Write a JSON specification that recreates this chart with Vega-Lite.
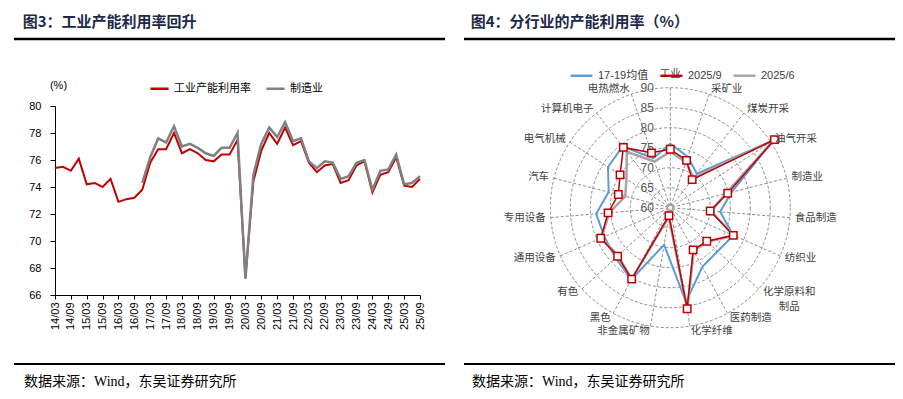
{
  "$schema": "https://vega.github.io/schema/vega-lite/v6.json",
  "background": "white",
  "padding": {"left": 12, "top": 14, "right": 0, "bottom": 0},
  "bounds": "flush",
  "spacing": 19,
  "resolve": {"scale": {"color": "independent"}, "legend": {"color": "independent"}},
  "config": {
    "view": {"stroke": null},
    "font": "Liberation Sans",
    "title": {"anchor": "start", "fontSize": 15, "fontWeight": "bold", "font": "Noto Sans CJK SC", "color": "#1c2a48", "offset": 8, "baseline": "bottom"}
  },
  "datasets": {
    "line": [
      {"q": "14/03", "s": "工业产能利用率", "v": 75.4}, {"q": "14/06", "s": "工业产能利用率", "v": 75.5}, {"q": "14/09", "s": "工业产能利用率", "v": 75.2}, {"q": "14/12", "s": "工业产能利用率", "v": 76.1},
      {"q": "15/03", "s": "工业产能利用率", "v": 74.2}, {"q": "15/06", "s": "工业产能利用率", "v": 74.3}, {"q": "15/09", "s": "工业产能利用率", "v": 74.0}, {"q": "15/12", "s": "工业产能利用率", "v": 74.6},
      {"q": "16/03", "s": "工业产能利用率", "v": 72.9}, {"q": "16/06", "s": "工业产能利用率", "v": 73.1}, {"q": "16/09", "s": "工业产能利用率", "v": 73.2}, {"q": "16/12", "s": "工业产能利用率", "v": 73.8},
      {"q": "17/03", "s": "工业产能利用率", "v": 75.8}, {"q": "17/06", "s": "工业产能利用率", "v": 76.8}, {"q": "17/09", "s": "工业产能利用率", "v": 76.8}, {"q": "17/12", "s": "工业产能利用率", "v": 78.0},
      {"q": "18/03", "s": "工业产能利用率", "v": 76.5}, {"q": "18/06", "s": "工业产能利用率", "v": 76.8}, {"q": "18/09", "s": "工业产能利用率", "v": 76.5}, {"q": "18/12", "s": "工业产能利用率", "v": 76.0},
      {"q": "19/03", "s": "工业产能利用率", "v": 75.9}, {"q": "19/06", "s": "工业产能利用率", "v": 76.4}, {"q": "19/09", "s": "工业产能利用率", "v": 76.4}, {"q": "19/12", "s": "工业产能利用率", "v": 77.5},
      {"q": "20/03", "s": "工业产能利用率", "v": 67.3}, {"q": "20/06", "s": "工业产能利用率", "v": 74.4}, {"q": "20/09", "s": "工业产能利用率", "v": 76.7}, {"q": "20/12", "s": "工业产能利用率", "v": 78.0},
      {"q": "21/03", "s": "工业产能利用率", "v": 77.2}, {"q": "21/06", "s": "工业产能利用率", "v": 78.4}, {"q": "21/09", "s": "工业产能利用率", "v": 77.1}, {"q": "21/12", "s": "工业产能利用率", "v": 77.4},
      {"q": "22/03", "s": "工业产能利用率", "v": 75.8}, {"q": "22/06", "s": "工业产能利用率", "v": 75.1}, {"q": "22/09", "s": "工业产能利用率", "v": 75.6}, {"q": "22/12", "s": "工业产能利用率", "v": 75.7},
      {"q": "23/03", "s": "工业产能利用率", "v": 74.3}, {"q": "23/06", "s": "工业产能利用率", "v": 74.5}, {"q": "23/09", "s": "工业产能利用率", "v": 75.6}, {"q": "23/12", "s": "工业产能利用率", "v": 75.9},
      {"q": "24/03", "s": "工业产能利用率", "v": 73.6}, {"q": "24/06", "s": "工业产能利用率", "v": 74.9}, {"q": "24/09", "s": "工业产能利用率", "v": 75.1}, {"q": "24/12", "s": "工业产能利用率", "v": 76.2},
      {"q": "25/03", "s": "工业产能利用率", "v": 74.1}, {"q": "25/06", "s": "工业产能利用率", "v": 74.0}, {"q": "25/09", "s": "工业产能利用率", "v": 74.6},
      {"q": "16/12", "s": "制造业", "v": 74.3},
      {"q": "17/03", "s": "制造业", "v": 76.2}, {"q": "17/06", "s": "制造业", "v": 77.6}, {"q": "17/09", "s": "制造业", "v": 77.3}, {"q": "17/12", "s": "制造业", "v": 78.5},
      {"q": "18/03", "s": "制造业", "v": 77.0}, {"q": "18/06", "s": "制造业", "v": 77.2}, {"q": "18/09", "s": "制造业", "v": 76.9}, {"q": "18/12", "s": "制造业", "v": 76.5},
      {"q": "19/03", "s": "制造业", "v": 76.3}, {"q": "19/06", "s": "制造业", "v": 76.9}, {"q": "19/09", "s": "制造业", "v": 76.9}, {"q": "19/12", "s": "制造业", "v": 78.0},
      {"q": "20/03", "s": "制造业", "v": 67.2}, {"q": "20/06", "s": "制造业", "v": 74.9}, {"q": "20/09", "s": "制造业", "v": 77.2}, {"q": "20/12", "s": "制造业", "v": 78.4},
      {"q": "21/03", "s": "制造业", "v": 77.7}, {"q": "21/06", "s": "制造业", "v": 78.8}, {"q": "21/09", "s": "制造业", "v": 77.4}, {"q": "21/12", "s": "制造业", "v": 77.6},
      {"q": "22/03", "s": "制造业", "v": 75.9}, {"q": "22/06", "s": "制造业", "v": 75.4}, {"q": "22/09", "s": "制造业", "v": 75.9}, {"q": "22/12", "s": "制造业", "v": 75.8},
      {"q": "23/03", "s": "制造业", "v": 74.6}, {"q": "23/06", "s": "制造业", "v": 74.8}, {"q": "23/09", "s": "制造业", "v": 75.8}, {"q": "23/12", "s": "制造业", "v": 76.0},
      {"q": "24/03", "s": "制造业", "v": 73.8}, {"q": "24/06", "s": "制造业", "v": 75.2}, {"q": "24/09", "s": "制造业", "v": 75.3}, {"q": "24/12", "s": "制造业", "v": 76.4},
      {"q": "25/03", "s": "制造业", "v": 74.2}, {"q": "25/06", "s": "制造业", "v": 74.3}, {"q": "25/09", "s": "制造业", "v": 74.8}
    ],
    "radar": [
      {"cat": "工业", "s": "17-19均值", "v": 76.0}, {"cat": "采矿业", "s": "17-19均值", "v": 73.5}, {"cat": "煤炭开采", "s": "17-19均值", "v": 70.8}, {"cat": "油气开采", "s": "17-19均值", "v": 90.8},
      {"cat": "制造业", "s": "17-19均值", "v": 75.8}, {"cat": "食品制造", "s": "17-19均值", "v": 72.5}, {"cat": "纺织业", "s": "17-19均值", "v": 77.2}, {"cat": "化学原料和制品", "s": "17-19均值", "v": 76.1},
      {"cat": "医药制造", "s": "17-19均值", "v": 76.8}, {"cat": "化学纤维", "s": "17-19均值", "v": 83.9}, {"cat": "非金属矿物", "s": "17-19均值", "v": 69.4}, {"cat": "黑色", "s": "17-19均值", "v": 80.4},
      {"cat": "有色", "s": "17-19均值", "v": 78.6}, {"cat": "通用设备", "s": "17-19均值", "v": 78.0}, {"cat": "专用设备", "s": "17-19均值", "v": 78.6}, {"cat": "汽车", "s": "17-19均值", "v": 75.9},
      {"cat": "电气机械", "s": "17-19均值", "v": 78.6}, {"cat": "计算机电子", "s": "17-19均值", "v": 79.4}, {"cat": "电热燃水", "s": "17-19均值", "v": 73.1},
      {"cat": "工业", "s": "2025/6", "v": 74.0}, {"cat": "采矿业", "s": "2025/6", "v": 72.0}, {"cat": "煤炭开采", "s": "2025/6", "v": 69.5}, {"cat": "油气开采", "s": "2025/6", "v": 91.0},
      {"cat": "制造业", "s": "2025/6", "v": 74.3}, {"cat": "食品制造", "s": "2025/6", "v": 70.2}, {"cat": "纺织业", "s": "2025/6", "v": 77.4}, {"cat": "化学原料和制品", "s": "2025/6", "v": 72.6},
      {"cat": "医药制造", "s": "2025/6", "v": 72.3}, {"cat": "化学纤维", "s": "2025/6", "v": 85.8}, {"cat": "非金属矿物", "s": "2025/6", "v": 62.3}, {"cat": "黑色", "s": "2025/6", "v": 80.3},
      {"cat": "有色", "s": "2025/6", "v": 77.7}, {"cat": "通用设备", "s": "2025/6", "v": 78.8}, {"cat": "专用设备", "s": "2025/6", "v": 75.3}, {"cat": "汽车", "s": "2025/6", "v": 71.6},
      {"cat": "电气机械", "s": "2025/6", "v": 73.1}, {"cat": "计算机电子", "s": "2025/6", "v": 77.7}, {"cat": "电热燃水", "s": "2025/6", "v": 72.2},
      {"cat": "工业", "s": "2025/9", "v": 74.6}, {"cat": "采矿业", "s": "2025/9", "v": 72.5}, {"cat": "煤炭开采", "s": "2025/9", "v": 68.9}, {"cat": "油气开采", "s": "2025/9", "v": 91.1},
      {"cat": "制造业", "s": "2025/9", "v": 74.8}, {"cat": "食品制造", "s": "2025/9", "v": 70.0}, {"cat": "纺织业", "s": "2025/9", "v": 77.2}, {"cat": "化学原料和制品", "s": "2025/9", "v": 72.4},
      {"cat": "医药制造", "s": "2025/9", "v": 72.0}, {"cat": "化学纤维", "s": "2025/9", "v": 85.6}, {"cat": "非金属矿物", "s": "2025/9", "v": 62.0}, {"cat": "黑色", "s": "2025/9", "v": 80.3},
      {"cat": "有色", "s": "2025/9", "v": 77.9}, {"cat": "通用设备", "s": "2025/9", "v": 79.0}, {"cat": "专用设备", "s": "2025/9", "v": 75.6}, {"cat": "汽车", "s": "2025/9", "v": 73.4},
      {"cat": "电气机械", "s": "2025/9", "v": 75.0}, {"cat": "计算机电子", "s": "2025/9", "v": 79.1}, {"cat": "电热燃水", "s": "2025/9", "v": 74.5}
    ],
    "levels": [{"lvl": 60}, {"lvl": 65}, {"lvl": 70}, {"lvl": 75}, {"lvl": 80}, {"lvl": 85}, {"lvl": 90}]
  },
  "hconcat": [
    {
      "width": 431,
      "height": 325,
      "title": {"text": "图3：工业产能利用率回升", "dx": 10},
      "layer": [
        {
          "data": {"values": [{}]},
          "layer": [
            {"mark": {"type": "rule", "color": "#000000", "strokeWidth": 2.5}, "encoding": {"y": {"datum": 1, "type": "quantitative", "scale": {"domain": [0, 1]}, "axis": null}}},
            {"mark": {"type": "rule", "color": "#000000", "strokeWidth": 2}, "encoding": {"y": {"datum": 0, "type": "quantitative", "axis": null}}},
            {"mark": {"type": "text", "align": "left", "baseline": "middle", "fontSize": 14, "font": "Liberation Serif, Noto Sans CJK SC", "color": "#000000"},
             "encoding": {"x": {"datum": 0.0232, "type": "quantitative", "scale": {"domain": [0, 1]}, "axis": null}, "y": {"datum": -0.0554, "type": "quantitative", "axis": null}, "text": {"value": "数据来源：Wind，东吴证券研究所"}}}
          ]
        },
        {
          "data": {"name": "line"},
          "encoding": {
            "x": {"field": "q", "type": "ordinal", "scale": {"type": "point", "range": [41, 406], "padding": 0},
                  "axis": {"orient": "bottom", "offset": -69, "title": null, "values": ["14/03","14/09","15/03","15/09","16/03","16/09","17/03","17/09","18/03","18/09","19/03","19/09","20/03","20/09","21/03","21/09","22/03","22/09","23/03","23/09","24/03","24/09","25/03","25/09"],
                           "labelAngle": 270, "labelFontSize": 11, "labelColor": "#000000", "domainColor": "#000000", "tickColor": "#000000", "tickSize": 4, "labelPadding": 3, "grid": false}},
            "y": {"field": "v", "type": "quantitative", "scale": {"domain": [66, 80], "range": [256, 67], "nice": false, "zero": false},
                  "axis": {"orient": "left", "offset": -41, "values": [66, 68, 70, 72, 74, 76, 78, 80], "grid": false, "labelFontSize": 11, "labelColor": "#000000", "domainColor": "#000000", "tickColor": "#000000", "tickSize": 5, "labelPadding": 9,
                           "title": "(%)", "titleAngle": 0, "titleX": 3, "titleY": 46, "titleAlign": "center", "titleBaseline": "middle", "titleFontWeight": "normal", "titleFontSize": 11, "titleColor": "#000000"}},
            "color": {"field": "s", "type": "nominal", "scale": {"domain": ["工业产能利用率", "制造业"], "range": ["#C00000", "#808080"]},
                      "legend": {"orient": "none", "legendX": 135, "legendY": 39, "direction": "horizontal", "title": null, "symbolType": "stroke", "symbolSize": 330, "symbolStrokeWidth": 2.5, "labelFontSize": 11, "labelFont": "Noto Sans CJK SC", "labelColor": "#000000", "columnPadding": 10, "labelOffset": 4, "padding": 0}}
          },
          "layer": [
            {"transform": [{"filter": "datum.s == '工业产能利用率'"}], "mark": {"type": "line", "strokeWidth": 2}},
            {"transform": [{"filter": "datum.s == '制造业'"}], "mark": {"type": "line", "strokeWidth": 2.5}}
          ]
        }
      ],
      "resolve": {"scale": {"x": "independent", "y": "independent"}}
    },
    {
      "width": 431,
      "height": 325,
      "title": {"text": "图4：分行业的产能利用率（%）", "dx": 8},
      "layer": [
        {
          "data": {"values": [{}]},
          "layer": [
            {"mark": {"type": "rule", "color": "#000000", "strokeWidth": 2.5}, "encoding": {"y": {"datum": 1, "type": "quantitative", "scale": {"domain": [0, 1]}, "axis": null}}},
            {"mark": {"type": "rule", "color": "#000000", "strokeWidth": 2}, "encoding": {"y": {"datum": 0, "type": "quantitative", "axis": null}}},
            {"mark": {"type": "text", "align": "left", "baseline": "middle", "fontSize": 14, "font": "Liberation Serif, Noto Sans CJK SC", "color": "#000000"},
             "encoding": {"x": {"datum": 0.0186, "type": "quantitative", "scale": {"domain": [0, 1]}, "axis": null}, "y": {"datum": -0.0554, "type": "quantitative", "axis": null}, "text": {"value": "数据来源：Wind，东吴证券研究所"}}}
          ]
        },
        {
          "layer": [
            {
              "data": {"name": "levels"},
              "transform": [{"filter": "datum.lvl > 60"}, {"calculate": "datum.lvl - 60", "as": "ry"}],
              "mark": {"type": "point", "shape": "circle", "filled": false, "stroke": "#808080", "strokeWidth": 0.9, "strokeDash": [3, 2], "opacity": 1},
              "encoding": {
                "x": {"datum": 0, "type": "quantitative", "scale": {"domain": [-51.575, 56.175], "nice": false, "zero": false}, "axis": null},
                "y": {"datum": 0, "type": "quantitative", "scale": {"domain": [-39.075, 42.175], "nice": false, "zero": false}, "axis": null},
                "size": {"field": "ry", "type": "quantitative", "scale": {"type": "pow", "exponent": 2, "domain": [0, 30], "range": [0, 57600], "zero": true}, "legend": null}
              }
            },
            {
              "data": {"name": "radar"},
              "transform": [{"filter": "datum.s == '2025/9'"}, {"window": [{"op": "row_number", "as": "idx"}]}, {"calculate": "(datum.idx - 1) * 2 * PI / 19", "as": "th"}, {"calculate": "30 * sin(datum.th)", "as": "ex"}, {"calculate": "30 * cos(datum.th)", "as": "ey"}],
              "mark": {"type": "rule", "stroke": "#808080", "strokeWidth": 0.9, "strokeDash": [3, 2]},
              "encoding": {
                "x": {"field": "ex", "type": "quantitative", "scale": {"domain": [-51.575, 56.175], "nice": false, "zero": false}, "axis": null},
                "y": {"field": "ey", "type": "quantitative", "scale": {"domain": [-39.075, 42.175], "nice": false, "zero": false}, "axis": null},
                "x2": {"datum": 0},
                "y2": {"datum": 0}
              }
            },
            {
              "data": {"name": "levels"},
              "transform": [{"calculate": "datum.lvl - 60", "as": "ry"}],
              "mark": {"type": "text", "align": "right", "baseline": "middle", "fontSize": 12, "color": "#595959"},
              "encoding": {
                "x": {"datum": -4.1, "type": "quantitative", "scale": {"domain": [-51.575, 56.175], "nice": false, "zero": false}, "axis": null},
                "y": {"field": "ry", "type": "quantitative", "scale": {"domain": [-39.075, 42.175], "nice": false, "zero": false}, "axis": null},
                "text": {"field": "lvl", "type": "quantitative"}
              }
            },
            {
              "data": {"name": "radar"},
              "transform": [{"filter": "datum.s == '17-19均值'"}, {"window": [{"op": "row_number", "as": "idx"}]}, {"calculate": "(datum.idx - 1) * 2 * PI / 19", "as": "th"}, {"calculate": "(datum.v - 60) * sin(datum.th)", "as": "px"}, {"calculate": "(datum.v - 60) * cos(datum.th)", "as": "py"}],
              "mark": {"type": "line", "interpolate": "linear-closed", "strokeWidth": 2},
              "encoding": {
                "x": {"field": "px", "type": "quantitative", "scale": {"domain": [-51.575, 56.175], "nice": false, "zero": false}, "axis": null},
                "y": {"field": "py", "type": "quantitative", "scale": {"domain": [-39.075, 42.175], "nice": false, "zero": false}, "axis": null},
                "order": {"field": "idx", "type": "quantitative"},
                "color": {"field": "s", "type": "nominal", "scale": {"domain": ["17-19均值", "2025/9", "2025/6"], "range": ["#5B9BD5", "#C00000", "#A5A5A5"]},
                          "legend": {"orient": "none", "legendX": 105, "legendY": 24, "direction": "horizontal", "title": null, "symbolType": "stroke", "symbolSize": 480, "symbolStrokeWidth": 2.4, "labelFontSize": 11, "labelFont": "Liberation Sans, Noto Sans CJK SC", "labelColor": "#404040", "columnPadding": 6, "labelOffset": 4, "padding": 0}}
              }
            },
            {
              "data": {"name": "radar"},
              "transform": [{"filter": "datum.s == '2025/6'"}, {"window": [{"op": "row_number", "as": "idx"}]}, {"calculate": "(datum.idx - 1) * 2 * PI / 19", "as": "th"}, {"calculate": "(datum.v - 60) * sin(datum.th)", "as": "px"}, {"calculate": "(datum.v - 60) * cos(datum.th)", "as": "py"}],
              "mark": {"type": "line", "interpolate": "linear-closed", "strokeWidth": 2.5},
              "encoding": {
                "x": {"field": "px", "type": "quantitative", "scale": {"domain": [-51.575, 56.175], "nice": false, "zero": false}, "axis": null},
                "y": {"field": "py", "type": "quantitative", "scale": {"domain": [-39.075, 42.175], "nice": false, "zero": false}, "axis": null},
                "order": {"field": "idx", "type": "quantitative"},
                "color": {"field": "s", "type": "nominal"}
              }
            },
            {
              "data": {"name": "radar"},
              "transform": [{"filter": "datum.s == '2025/9'"}, {"window": [{"op": "row_number", "as": "idx"}]}, {"calculate": "(datum.idx - 1) * 2 * PI / 19", "as": "th"}, {"calculate": "(datum.v - 60) * sin(datum.th)", "as": "px"}, {"calculate": "(datum.v - 60) * cos(datum.th)", "as": "py"}],
              "layer": [
                {"mark": {"type": "line", "interpolate": "linear-closed", "strokeWidth": 1.5},
                 "encoding": {"order": {"field": "idx", "type": "quantitative"}, "color": {"field": "s", "type": "nominal"}}},
                {"mark": {"type": "point", "shape": "square", "size": 55, "filled": true, "fill": "#FFFFFF", "stroke": "#C00000", "strokeWidth": 1.5, "opacity": 1}}
              ],
              "encoding": {
                "x": {"field": "px", "type": "quantitative", "scale": {"domain": [-51.575, 56.175], "nice": false, "zero": false}, "axis": null},
                "y": {"field": "py", "type": "quantitative", "scale": {"domain": [-39.075, 42.175], "nice": false, "zero": false}, "axis": null}
              }
            },
            {
              "data": {"name": "radar"},
              "transform": [{"filter": "datum.s == '2025/9'"}, {"window": [{"op": "row_number", "as": "idx"}]}, {"calculate": "(datum.idx - 1) * 2 * PI / 19", "as": "th"}, {"calculate": "31.25 * sin(datum.th)", "as": "lx"}, {"calculate": "31.25 * cos(datum.th)", "as": "ly"}],
              "encoding": {
                "x": {"field": "lx", "type": "quantitative", "scale": {"domain": [-51.575, 56.175], "nice": false, "zero": false}, "axis": null},
                "y": {"field": "ly", "type": "quantitative", "scale": {"domain": [-39.075, 42.175], "nice": false, "zero": false}, "axis": null}
              },
              "layer": [
                {"transform": [{"filter": "sin(datum.th) > 0.1 && datum.cat != '化学原料和制品'"}],
                 "mark": {"type": "text", "align": "left", "baseline": "middle", "fontSize": 10.5, "font": "Noto Sans CJK SC", "color": "#404040"},
                 "encoding": {"text": {"field": "cat", "type": "nominal"}}},
                {"transform": [{"filter": "sin(datum.th) < -0.1"}],
                 "mark": {"type": "text", "align": "right", "baseline": "middle", "fontSize": 10.5, "font": "Noto Sans CJK SC", "color": "#404040"},
                 "encoding": {"text": {"field": "cat", "type": "nominal"}}},
                {"transform": [{"filter": "datum.idx == 1"}],
                 "mark": {"type": "text", "align": "center", "baseline": "middle", "dy": -9, "fontSize": 10.5, "font": "Noto Sans CJK SC", "color": "#404040"},
                 "encoding": {"text": {"field": "cat", "type": "nominal"}}},
                {"transform": [{"filter": "datum.cat == '化学原料和制品'"}],
                 "mark": {"type": "text", "align": "center", "baseline": "middle", "dx": 27, "lineHeight": 15, "fontSize": 10.5, "font": "Noto Sans CJK SC", "color": "#404040"},
                 "encoding": {"text": {"value": ["化学原料和", "制品"]}}}
              ]
            }
          ]
        }
      ],
      "resolve": {"scale": {"x": "independent", "y": "independent"}}
    }
  ]
}
